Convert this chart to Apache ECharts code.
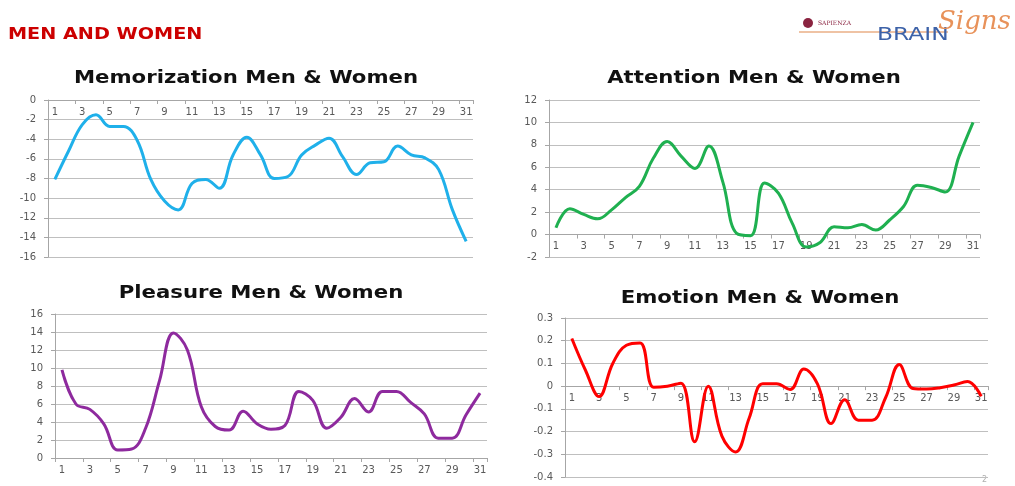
<!DOCTYPE html>
<html>
<head>
<meta charset="utf-8">
<script src="https://cdn.jsdelivr.net/npm/echarts@6/dist/echarts.min.js"></script>
<style>
html,body{margin:0;padding:0;background:#fff;}
#c{width:1015px;height:486px;}
</style>
</head>
<body>
<div id="c"></div>
<script>
const categories = Array.from({length:31},(_, i)=>String(i+1));

const memorization = [-8.1,-5.2,-2.5,-1.5,-2.7,-2.7,-4.1,-8.1,-10.3,-11.2,-8.5,-8.1,-9.0,-5.6,-3.8,-5.6,-8.0,-7.8,-5.6,-4.6,-3.9,-5.8,-7.6,-6.4,-6.3,-4.7,-5.6,-5.9,-7.1,-11.2,-14.4];
const attention = [0.6,2.3,1.8,1.4,2.2,3.3,4.3,6.8,8.3,7.0,5.9,7.9,4.7,0.1,-0.1,4.6,3.7,1.0,-1.1,-0.7,0.7,0.6,0.9,0.4,1.3,2.5,4.4,4.2,3.8,7.0,10.0];
const pleasure = [9.8,6.0,5.4,3.8,0.9,1.0,3.3,8.6,13.9,12.0,5.7,3.5,3.1,5.2,3.8,3.2,3.6,7.4,6.4,3.3,4.5,6.6,5.1,7.4,7.4,6.2,4.9,2.2,2.2,4.8,7.2];
const emotion = [0.21,0.07,-0.046,0.10,0.18,0.19,-0.005,0.0,0.013,-0.245,0.0,-0.22,-0.29,-0.14,0.01,0.01,-0.015,0.075,0.01,-0.165,-0.06,-0.15,-0.15,-0.05,0.095,-0.01,-0.013,-0.007,0.005,0.02,-0.045];

const titles = ['Memorization Men & Women','Attention Men & Women','Pleasure Men & Women','Emotion Men & Women'];
const yMin = [-16,-2,0,-0.4];
const yMax = [0,12,16,0.3];
const yStep = [2,2,2,0.1];

const seriesData = [memorization, attention, pleasure, emotion];
const colors = ['#1fb0ea','#1fb050','#8e2a9e','#ff0000'];

const grids = [
  {left:48, top:100, width:425, height:157},
  {left:549, top:100, width:431, height:157},
  {left:55, top:314, width:432, height:144},
  {left:565, top:318, width:423, height:159}
];
const titlePos = [[246,78],[754,78],[261,293],[760,298]];

const axisLabelStyle = {color:'#595959', fontSize:10, fontFamily:'DejaVu Sans'};
const lineStyle = {color:'#a6a6a6', width:1};

// place the category axis on the value-axis zero line
const zeroOffset = i => -grids[i].height * (0 - yMin[i]) / (yMax[i] - yMin[i]);

const option = {
  animation:false,
  backgroundColor:'#ffffff',
  grid: grids,
  xAxis: grids.map((g,i)=>({
    type:'category', gridIndex:i, data:categories, boundaryGap:true,
    position:'bottom', offset:zeroOffset(i),
    axisLine:{onZero:false, lineStyle:lineStyle},
    axisTick:{show:true, length:4, lineStyle:lineStyle},
    axisLabel:Object.assign({interval:1, margin:7}, axisLabelStyle),
    splitLine:{show:false}
  })),
  yAxis: grids.map((g,i)=>({
    type:'value', gridIndex:i, min:yMin[i], max:yMax[i], interval:yStep[i],
    axisLine:{show:true, onZero:false, lineStyle:lineStyle},
    axisTick:{show:true, length:4, lineStyle:lineStyle},
    axisLabel:Object.assign({margin:12, formatter:v=>String(+v.toFixed(2))}, axisLabelStyle),
    splitLine:{show:true, lineStyle:{color:'#bfbfbf', width:1}}
  })),
  series: seriesData.map((d,i)=>({
    type:'line', xAxisIndex:i, yAxisIndex:i, data:d, smooth:0.4,
    symbol:'none', lineStyle:{color:colors[i], width:3}
  })),
  graphic: titles.map((t,i)=>({
    type:'text', x:titlePos[i][0], y:titlePos[i][1], scaleX:1.18,
    style:{text:t, align:'center', verticalAlign:'middle', fill:'#111', font:'bold 18px "DejaVu Sans"'}
  })).concat([
    {type:'text', x:8, y:35, scaleX:1.28, style:{text:'MEN AND WOMEN', verticalAlign:'middle', fill:'#cc0000', font:'bold 15px "DejaVu Sans"'}},
    {type:'circle', shape:{cx:808, cy:23, r:5}, style:{fill:'#8a2340'}},
    {type:'text', x:818, y:23, style:{text:'SAPIENZA', verticalAlign:'middle', fill:'#8a2340', font:'6px "DejaVu Serif"'}},
    {type:'line', shape:{x1:799, y1:32, x2:948, y2:32}, style:{stroke:'#e0874a', lineWidth:1.2}},
    {type:'text', x:877, y:35, scaleX:1.3, style:{text:'BRAIN', verticalAlign:'middle', fill:'#3d62a8', font:'18px "DejaVu Sans"'}},
    {type:'text', x:938, y:22, style:{text:'Signs', verticalAlign:'middle', fill:'#e8925a', font:'italic 26px "DejaVu Serif"'}},
    {type:'text', x:982, y:480, style:{text:'2', verticalAlign:'middle', fill:'#b0b0b0', font:'8px "DejaVu Sans"'}}
  ])
};

const chart = echarts.init(document.getElementById('c'));
chart.setOption(option);
</script>
</body>
</html>
